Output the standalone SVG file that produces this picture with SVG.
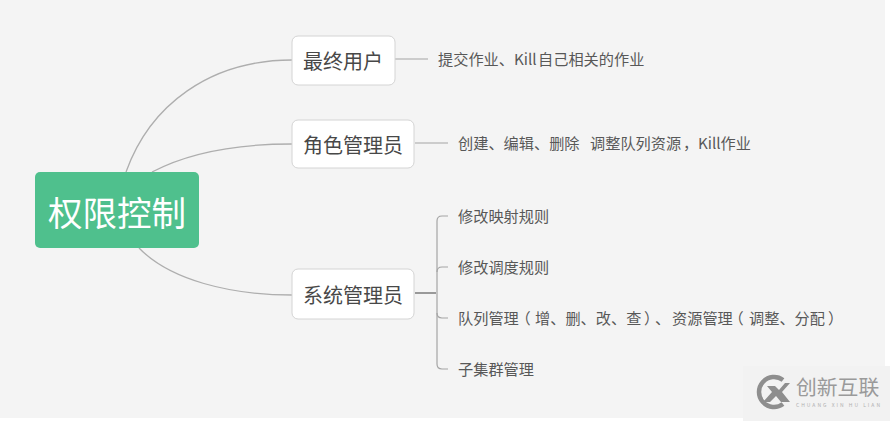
<svg xmlns="http://www.w3.org/2000/svg" width="890" height="421" viewBox="0 0 890 421">
<style>
text{font-family:"Noto Sans CJK SC","Liberation Sans",sans-serif}
.n{fill:#fff;stroke:#d4d4d4;stroke-width:1}
.m{font-size:20px;fill:#484848}
.l{font-size:15.2px;fill:#585858}
.h{font-feature-settings:"halt"}
.c{fill:none;stroke:#aeaeae;stroke-width:1.3}
.d{fill:none;stroke:#a4a4a4;stroke-width:1.2}
.t{fill:none;stroke:#999;stroke-width:2}
</style>
<rect width="890" height="421" fill="#fff"/>
<rect width="885" height="418" fill="#f4f4f4"/>
<rect x="743" y="366" width="147" height="55" fill="#f2f2f2"/>
<g id="connectors">
<path class="c" d="M126 172C150 105 210 60 292 60"/>
<path class="c" d="M152 172C190 152 240 144 292 144"/>
<path class="c" d="M139 248C170 280 230 295 292 295"/>
<path class="d" d="M395 59H428"/>
<path class="d" d="M415 143H448"/>
<path class="t" d="M415 293H436"/>
<path class="d" d="M448 216H442Q437 216 437 221V364Q437 369 442 369H448"/>
<path class="d" d="M437 272Q437 267 442 267H448"/>
<path class="d" d="M437 313Q437 318 442 318H448"/>
</g>
<g id="root"><rect x="35" y="172" width="164" height="76" rx="5" fill="#4fc08d"/><text x="117" y="226" text-anchor="middle" font-size="34.5" fill="#fff">权限控制</text></g>
<g id="n1"><rect class="n" x="292" y="36" width="103" height="49" rx="6"/><text class="m" x="343" y="69" text-anchor="middle">最终用户</text></g>
<g id="n2"><rect class="n" x="292" y="120" width="122" height="48" rx="6"/><text class="m" x="353" y="153" text-anchor="middle">角色管理员</text></g>
<g id="n3"><rect class="n" x="292" y="269" width="122" height="50" rx="6"/><text class="m" x="353" y="303" text-anchor="middle">系统管理员</text></g>
<g id="l1"><text class="l" x="438" y="65">提交作业、Kill<tspan x="538">自己相关的作业</tspan></text></g>
<g id="l2"><text class="l" x="458" y="149">创建、编辑、删除<tspan x="590">调整队列资源</tspan><tspan x="683">，</tspan><tspan x="698">Kill作业</tspan></text></g>
<g id="l3"><text class="l" x="458" y="222">修改映射规则</text></g>
<g id="l4"><text class="l" x="458" y="273">修改调度规则</text></g>
<g id="l5"><text class="l" x="458" y="324">队列管理<tspan class="h" x="523">（</tspan><tspan x="535">增、删、改、查</tspan><tspan class="h" x="644">）</tspan><tspan class="h" x="655">、</tspan><tspan x="672">资源管理</tspan><tspan class="h" x="736">（</tspan><tspan x="749">调整、分配</tspan><tspan class="h" x="828">）</tspan></text></g>
<g id="l6"><text class="l" x="458" y="375">子集群管理</text></g>
<g id="watermark">
<path d="M783 380A15 15 0 1 0 783 404" fill="none" stroke="#8e8e8e" stroke-width="4.5"/>
<path d="M767 386H775L779 390L785 383H790L782 392L790 402H781L776 396L770 402H763L772 392Z" fill="#8e8e8e"/>
<text x="796" y="395" font-size="20.8" fill="#9a9a9a">创新互联</text>
<text x="796" y="407" font-size="5" fill="#b0b0b0" font-family="Liberation Sans" textLength="84">CHUANG XIN HU LIAN</text>
</g>
</svg>
